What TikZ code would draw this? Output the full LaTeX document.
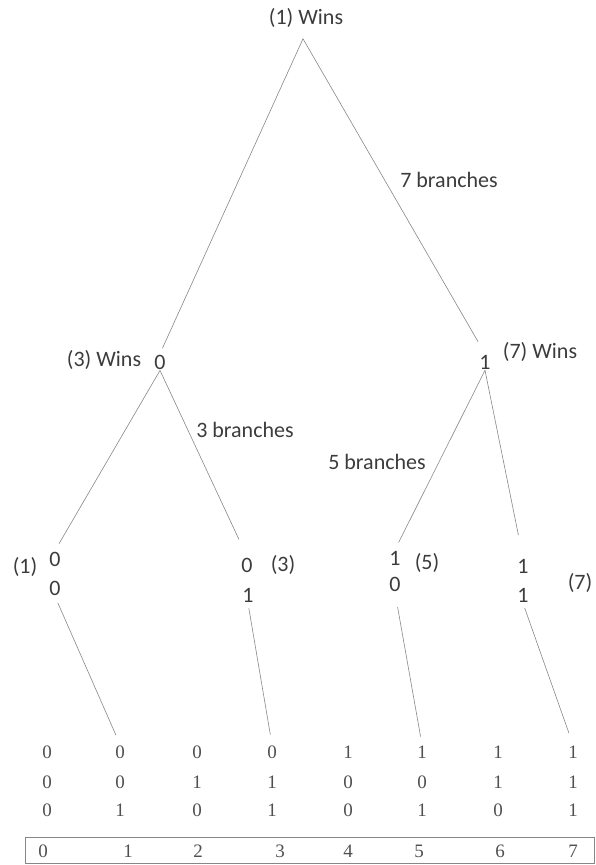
\documentclass[tikz,border=0pt]{standalone}
\usepackage{fontspec}
\usepackage{xcolor}
\newfontfamily\calibfont{Carlito}
\newfontfamily\timesfont{Liberation Serif}
\usetikzlibrary{positioning}
\definecolor{textgray}{RGB}{60,60,60}
\definecolor{numgray}{RGB}{80,80,80}
\definecolor{linegray}{RGB}{135,135,135}

\tikzset{
  lbl/.style={font=\calibfont\fontsize{22}{24}\selectfont, text=textgray, inner sep=1pt},
  bit/.style={lbl},
  num/.style={font=\timesfont\fontsize{19}{21}\selectfont, text=numgray, inner sep=1pt},
  edge/.style={draw=linegray, line width=0.6pt}
}

\begin{document}
\begin{tikzpicture}[x=1pt, y=-1pt]
    \useasboundingbox (0,0) rectangle (596,865);

    % Top of the tree
    \node[lbl] (root) at (306,18) {(1) Wins};
    \node[lbl] at (449,180) {7 branches};

    % First bit
    \node[bit] (a) at (160,362) {0};
    \node[lbl] at (104,360) {(3) Wins};
    \node[bit] (b) at (485,362) {1};
    \node[lbl] at (540,352) {(7) Wins};

    \draw[edge, shorten >=6pt] ([shift={(-3,10)}]root.south) -- (a.north);
    \draw[edge, shorten >=14pt] ([shift={(-3,10)}]root.south) -- (b.north);

    \node[lbl] at (245,430) {3 branches};
    \node[lbl] at (377,462) {5 branches};

    % Second bit
    \node[bit] (aa1) at (55,559) {0};
    \node[bit] (aa2) at (55,588) {0};
    \node[lbl] at (25,567) {(1)};

    \node[bit] (ab1) at (247,565) {0};
    \node[bit] (ab2) at (248,595) {1};
    \node[lbl] at (283,565) {(3)};

    \node[bit] (ba1) at (395,558) {1};
    \node[bit] (ba2) at (395,584) {0};
    \node[lbl] at (427,563) {(5)};

    \node[bit] (bb1) at (523,566) {1};
    \node[bit] (bb2) at (523,595) {1};
    \node[lbl] at (580,583) {(7)};

    \draw[edge, shorten >=8pt] (a.south) -- (aa1.north);
    \draw[edge, shorten >=19pt] (a.south) -- (ab1.north);
    \draw[edge, shorten >=8pt] (b.south) -- (ba1.north);
    \draw[edge, shorten >=23pt] (b.south) -- (bb1.north);

    % Three bit codes
    \foreach \x/\p/\q/\r [count=\i from 0] in
        {47/0/0/0, 120/0/0/1, 197/0/1/0, 272/0/1/1,
         348/1/0/0, 422/1/0/1, 498/1/1/0, 573/1/1/1} {
        \node[num] (t\i) at (\x,752) {\p};
        \node[num] (m\i) at (\x,782) {\q};
        \node[num] (u\i) at (\x,810) {\r};
    }

    \draw[edge, shorten <=7pt, shorten >=10pt] (aa2.south) -- (t1.north);
    \draw[edge, shorten <=5pt, shorten >=10pt] (ab2.south) -- (t3.north);
    \draw[edge, shorten <=15pt, shorten >=8pt] (ba2.south) -- (t5.north);
    \draw[edge, shorten <=5pt, shorten >=12pt] (bb2.south) -- (t7.north);

    % Value row
    \node[draw=linegray, line width=0.6pt, minimum width=569pt, minimum height=26pt,
          inner sep=0pt] (box) at (309.5,850) {};
    \foreach \x [count=\i from 0] in {43,128,198,280,348,419,500,573}
        \node[num] (v\i) at (\x,851) {\i};
\end{tikzpicture}
\end{document}
